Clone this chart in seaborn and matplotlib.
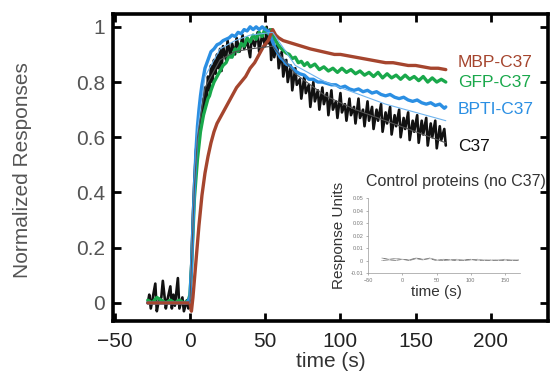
import numpy as np
import pandas as pd
import matplotlib
matplotlib.use("Agg")
import matplotlib.pyplot as plt
import seaborn as sns

# C37 (black, noisy)
c37_t = [-28, -27, -26, -25, -23, -22, -21, -19, -18, -16, -15, -13, -12, -11, -10, -8, -7, -6, -5, -4, -2, -1,
         0, 1, 2, 3, 4, 5, 6, 7, 8, 9, 10, 11, 12, 13, 14, 15, 16, 17, 18, 19, 20, 21, 22, 24, 25, 27, 28,
         30, 31, 33, 35, 36, 38, 40, 41, 43, 45, 46, 48, 50, 51, 52, 53,
         54, 55, 56, 58, 59, 61, 62, 64, 65, 67, 68, 70, 71, 73, 74, 76, 77, 79, 80, 82, 83, 85, 86, 88, 89,
         91, 92, 94, 95, 97, 98, 100, 101, 103, 104, 106, 107, 109, 110, 112, 113, 115, 116, 118, 119,
         121, 122, 124, 125, 127, 128, 130, 131, 133, 134, 136, 137, 139, 140, 142, 143, 145, 146, 148, 149,
         151, 152, 154, 155, 157, 158, 160, 161, 163, 164, 166, 167, 169, 170]
c37_v = [0.0, 0.03, -0.02, 0.01, 0.07, -0.03, 0.0, 0.02, 0.08, -0.02, 0.01, 0.06, -0.02, 0.03, -0.01, 0.09, -0.02, 0.0, 0.02, -0.03, 0.01, -0.02,
         0.0, 0.15, 0.32, 0.45, 0.55, 0.60, 0.68, 0.62, 0.74, 0.68, 0.78, 0.72, 0.82, 0.77, 0.86, 0.80, 0.88, 0.83, 0.90, 0.85, 0.92, 0.84, 0.93, 0.88, 0.95, 0.89, 0.94,
         0.90, 0.96, 0.91, 0.97, 0.92, 0.95, 0.89, 0.96, 0.93, 0.98, 0.91, 0.97, 0.93, 1.00, 0.94, 0.99,
         0.88, 0.97, 0.89, 0.94, 0.85, 0.91, 0.82, 0.88, 0.80, 0.86, 0.77, 0.85, 0.79, 0.81, 0.74, 0.82, 0.76, 0.79, 0.71, 0.80, 0.73, 0.77, 0.70, 0.78, 0.72,
         0.76, 0.68, 0.77, 0.70, 0.73, 0.67, 0.76, 0.69, 0.72, 0.66, 0.74, 0.68, 0.71, 0.65, 0.74, 0.67, 0.70, 0.64, 0.73, 0.66,
         0.71, 0.63, 0.70, 0.66, 0.72, 0.62, 0.69, 0.65, 0.71, 0.61, 0.68, 0.64, 0.70, 0.60, 0.67, 0.63, 0.69, 0.59, 0.66, 0.62,
         0.68, 0.58, 0.66, 0.61, 0.67, 0.57, 0.65, 0.60, 0.66, 0.56, 0.64, 0.59, 0.63, 0.57]

# BPTI-C37 (blue)
bpti_t = [-28, -20, -10, -2, 0, 1, 2, 3, 4, 5, 6, 7, 8, 9, 10, 12, 14, 16, 18, 20, 22, 24, 26, 28, 30, 32, 34, 36, 38,
          40, 42, 44, 46, 48, 50, 52, 54, 56, 58, 60, 62, 64, 66, 68, 70, 73, 76, 79, 82, 85, 88, 91, 94, 97, 100,
          103, 106, 109, 112, 115, 118, 121, 124, 127, 130, 133, 136, 139, 142, 145, 148, 151, 154, 157, 160, 163, 166, 169, 170]
bpti_v = [0.0, 0.0, 0.0, 0.0, 0.02, 0.12, 0.28, 0.42, 0.55, 0.64, 0.70, 0.75, 0.79, 0.82, 0.85, 0.88, 0.91, 0.92, 0.935, 0.94, 0.95, 0.955, 0.96, 0.97, 0.965, 0.98, 0.975, 0.99, 0.985,
          1.0, 0.99, 1.0, 0.99, 1.0, 0.99, 0.985, 0.96, 0.93, 0.91, 0.89, 0.88, 0.865, 0.86, 0.85, 0.84, 0.83, 0.825, 0.81, 0.81, 0.80, 0.80, 0.795, 0.79, 0.79, 0.78,
          0.785, 0.775, 0.77, 0.775, 0.765, 0.77, 0.76, 0.765, 0.755, 0.75, 0.755, 0.745, 0.74, 0.745, 0.735, 0.73, 0.735, 0.725, 0.72, 0.725, 0.715, 0.72, 0.705, 0.71]

# GFP-C37 (green)
gfp_t = [-28, -25, -22, -19, -16, -13, -10, -7, -4, -1, 0, 1, 2, 3, 4, 5, 6, 7, 8, 9, 10, 11, 12, 13, 14, 16, 18, 20, 22, 24, 26, 28,
         30, 32, 34, 36, 38, 40, 42, 44, 46, 48, 50, 52, 54, 56, 58, 60, 62, 64, 66, 68, 70, 72, 74, 76, 78, 80, 83, 86, 89, 92, 95, 98,
         101, 104, 107, 110, 113, 116, 119, 122, 125, 128, 131, 134, 137, 140, 143, 146, 149, 152, 155, 158, 161, 164, 167, 170]
gfp_v = [0.01, 0.0, 0.02, 0.01, 0.0, 0.01, 0.0, 0.01, 0.0, 0.01, 0.03, 0.12, 0.25, 0.38, 0.45, 0.52, 0.57, 0.62, 0.65, 0.68, 0.70, 0.72, 0.74, 0.75, 0.77, 0.80, 0.82, 0.84, 0.86, 0.87, 0.895, 0.89,
         0.92, 0.91, 0.94, 0.93, 0.96, 0.945, 0.97, 0.955, 0.98, 0.965, 0.995, 0.975, 0.99, 0.96, 0.94, 0.925, 0.915, 0.905, 0.90, 0.885, 0.89, 0.87, 0.875, 0.86, 0.87, 0.855, 0.865, 0.845, 0.855, 0.84, 0.85, 0.835,
         0.85, 0.835, 0.845, 0.83, 0.84, 0.825, 0.835, 0.82, 0.835, 0.815, 0.83, 0.815, 0.825, 0.81, 0.825, 0.81, 0.82, 0.805, 0.82, 0.80, 0.815, 0.80, 0.81, 0.80]

# MBP-C37 (brown)
mbp_t = [-28, -20, -10, -3, 0, 1, 2, 4, 6, 8, 10, 12, 14, 16, 18, 20, 22, 25, 28, 31, 34, 37, 40, 43, 46, 49, 52, 55, 57, 59,
         62, 65, 68, 71, 74, 77, 80, 84, 88, 92, 96, 100, 105, 110, 115, 120, 125, 130, 135, 140, 145, 150, 155, 160, 165, 170]
mbp_v = [0.0, 0.0, 0.0, 0.0, 0.0, -0.03, 0.02, 0.15, 0.28, 0.39, 0.47, 0.53, 0.58, 0.62, 0.65, 0.67, 0.69, 0.72, 0.75, 0.78, 0.80, 0.82, 0.85, 0.87, 0.90, 0.93, 0.95, 0.99, 0.97, 0.96,
         0.95, 0.945, 0.94, 0.935, 0.93, 0.925, 0.92, 0.915, 0.91, 0.905, 0.90, 0.90, 0.895, 0.89, 0.885, 0.88, 0.875, 0.87, 0.87, 0.865, 0.86, 0.86, 0.855, 0.85, 0.85, 0.845]

# thin fitted curves
fit_bpti_t = [0, 3, 5, 10, 20, 30, 40, 55, 70, 90, 110, 130, 150, 170]
fit_bpti_v = [0.0, 0.45, 0.62, 0.82, 0.92, 0.95, 0.97, 0.98, 0.86, 0.80, 0.76, 0.72, 0.69, 0.66]
fit_c37_t = [0, 3, 5, 10, 20, 30, 40, 55, 70, 90, 110, 130, 150, 170]
fit_c37_v = [0.0, 0.42, 0.60, 0.78, 0.88, 0.91, 0.92, 0.93, 0.83, 0.75, 0.70, 0.66, 0.62, 0.58]

# inset: control proteins
ctrl_t = [-30, -20, -10, 0, 10, 20, 30, 40, 50, 60, 70, 80, 90, 100, 110, 120, 130, 140, 150, 160, 170]
ctrl_a = [0.002, 0.001, 0.0015, 0.001, 0.0005, 0.002, 0.001, 0.0015, 0.0, 0.001, 0.0005, 0.0, 0.0005, 0.001, 0.0, 0.0005, 0.0, 0.0005, 0.0, 0.0005, 0.0]
ctrl_b = [0.0, 0.0005, 0.0, 0.001, 0.0, 0.0015, 0.0005, 0.002, 0.0005, 0.0, 0.0005, 0.001, 0.0, 0.0005, 0.001, 0.0, 0.0005, 0.0, 0.001, 0.0, 0.0005]

labels = ["MBP-C37", "GFP-C37", "BPTI-C37", "C37"]
colors = ["#a5452e", "#19a84b", "#2b8fe3", "#111111"]

sns.set_style("ticks")
plt.rcParams['font.family'] = ['Liberation Sans', 'DejaVu Sans']

fig = plt.figure(figsize=(5.52, 3.74), dpi=100)
ax = fig.add_axes([0.205, 0.142, 0.788, 0.821])

series = [(mbp_t, mbp_v, colors[0], 2.4), (gfp_t, gfp_v, colors[1], 2.4),
          (bpti_t, bpti_v, colors[2], 2.4), (c37_t, c37_v, colors[3], 1.9)]
for t, v, c, lw in [series[3], series[1], series[2], series[0]]:
    sns.lineplot(x=t, y=v, color=c, linewidth=lw, ax=ax, sort=False)

sns.lineplot(x=fit_bpti_t, y=fit_bpti_v, color="#6fb4ee", linewidth=0.8, ax=ax)
sns.lineplot(x=fit_c37_t, y=fit_c37_v, color="#555555", linewidth=0.8, ax=ax)

ax.set_xlim(-51, 238)
ax.set_ylim(-0.065, 1.047)
ax.set_xticks([-50, 0, 50, 100, 150, 200])
ax.set_yticks([0, 0.2, 0.4, 0.6, 0.8, 1.0])
ax.set_yticklabels(["0", "0.2", "0.4", "0.6", "0.8", "1"])
ax.tick_params(direction="in", length=6, width=2, labelsize=15, colors="black",
               top=True, right=True, pad=6)
ax.tick_params(axis="x", labelcolor="#222222", pad=8)
ax.tick_params(axis="y", labelcolor="#555555")
for s in ax.spines.values():
    s.set_linewidth(2.6)
    s.set_color("black")
ax.set_xlabel("time (s)", fontsize=15, color="#333333")
ax.set_ylabel("Normalized Responses", fontsize=15, color="#555555")
ax.yaxis.set_label_coords(-0.186, 0.49)
ax.xaxis.set_label_coords(0.5, -0.102)

label_y = [0.87, 0.80, 0.70, 0.565]
for lab, c, y in zip(labels, colors, label_y):
    ax.text(178, y, lab, color=c, fontsize=12.5, va="center", ha="left")

# inset
ins = fig.add_axes([0.667, 0.270, 0.275, 0.200])
ins.set_facecolor("none")
sns.lineplot(x=ctrl_t, y=ctrl_a, color="#666666", linewidth=0.6, marker="s",
             markersize=1.5, markeredgewidth=0.3, fillstyle="none", ax=ins)
sns.lineplot(x=ctrl_t, y=ctrl_b, color="#888888", linewidth=0.6, marker="^",
             markersize=1.5, markeredgewidth=0.3, fillstyle="none", ax=ins)
ins.set_xlim(-50, 172)
ins.set_ylim(-0.01, 0.05)
ins.set_xticks([-50, 0, 50, 100, 150])
ins.set_yticks([-0.01, 0, 0.01, 0.02, 0.03, 0.04, 0.05])
ins.set_yticklabels(["-0.01", "0", "0.01", "0.02", "0.03", "0.04", "0.05"])
ins.tick_params(labelsize=4, length=1.5, width=0.4, colors="#777777", pad=2)
sns.despine(ax=ins)
for s in ["left", "bottom"]:
    ins.spines[s].set_linewidth(0.5)
    ins.spines[s].set_color("#999999")
ins.set_xlabel("time (s)", fontsize=11, color="#333333", labelpad=0)
ins.xaxis.set_label_coords(0.45, -0.16)
ins.set_ylabel("Response Units", fontsize=11, color="#333333", labelpad=3)
ins.set_title("Control proteins (no C37)", fontsize=11.5, color="#333333", pad=9, x=0.58)

fig.savefig("out.png", dpi=100)
